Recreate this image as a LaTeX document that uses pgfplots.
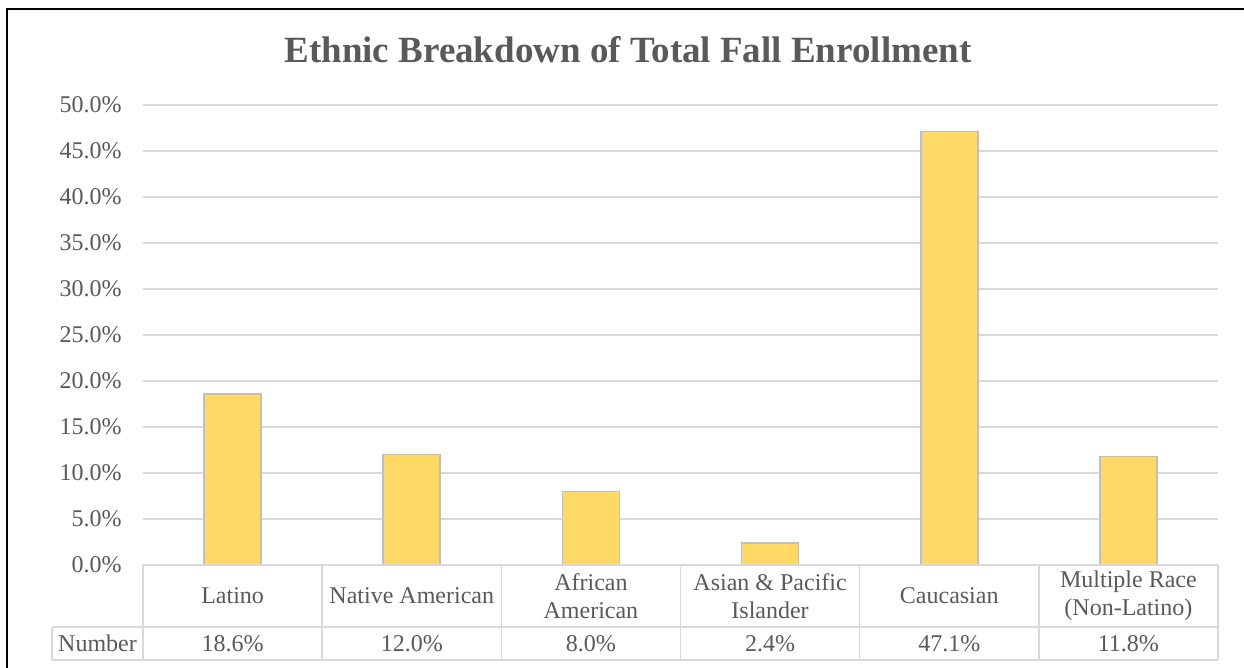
\documentclass[border=0pt]{standalone}
\usepackage{pgfplots}
\usepackage{pgfplotstable}
\usepackage{fontspec}
\pgfplotsset{compat=1.18}
\setmainfont{Liberation Serif}
\definecolor{txtgray}{HTML}{595959}
\definecolor{gridgray}{HTML}{D9D9D9}
\definecolor{bargold}{HTML}{FFD966}
\definecolor{barline}{HTML}{BFBFBF}

\pgfplotstableread{
idx pct
0 18.6
1 12.0
2 8.0
3 2.4
4 47.1
5 11.8
}\enrol

\begin{document}
\begin{tikzpicture}
\useasboundingbox (0,0) rectangle (622pt,334pt);
% chart frame (only top and left edges fall inside the picture)
\draw[black, line width=1pt] (3.5pt,-2pt) -- (3.5pt,329.5pt) -- (626pt,329.5pt);
\node[anchor=base, text=txtgray, font=\fontsize{18.5}{22}\selectfont\bfseries]
  at (314pt,302.5pt) {Ethnic Breakdown of Total Fall Enrollment};
\begin{axis}[
  at={(71.5pt,51.5pt)}, anchor=south west,
  scale only axis, width=537.5pt, height=230pt,
  xmin=-0.5, xmax=5.5, ymin=0, ymax=50,
  ytick={0,5,...,50},
  xtick={0,...,5},
  xticklabels={Latino, Native American, {African\\American},
    {Asian \& Pacific\\Islander}, Caucasian, {Multiple Race\\(Non-Latino)}},
  axis line style={draw=none}, tick style={draw=none},
  major tick length=0pt,
  ymajorgrids, grid style={gridgray, line width=0.75pt},
  /pgf/number format/assume math mode=true,
  yticklabel={\pgfmathprintnumber[fixed,fixed zerofill,precision=1]{\tick}\%},
  yticklabel style={anchor=east, inner sep=0pt, xshift=-10.5pt},
  xticklabel style={anchor=center, inner sep=0pt, yshift=-15.5pt, align=center},
  ticklabel style={text=txtgray, font=\fontsize{12}{14}\selectfont},
  clip=false,
]
\addplot[ybar, bar width=28.5pt, bar shift=0pt, fill=bargold, draw=barline,
  line width=0.75pt] table[x=idx, y=pct] {\enrol};
% values row of the data table under the chart
\addplot[draw=none, mark=none, nodes near coords={\pgfmathprintnumber[fixed,fixed zerofill,precision=1]{\pgfplotspointmeta}\%},
  point meta=\thisrow{pct},
  every node near coord/.append style={anchor=center, inner sep=0pt, yshift=-39.25pt,
    text=txtgray, font=\fontsize{12}{14}\selectfont}]
  table[x=idx, y expr=0] {\enrol};
\end{axis}
% data table grid
\begin{scope}[gridgray, line width=0.75pt]
  \draw (71.5pt,51.5pt) -- (609pt,51.5pt);
  \draw (26pt,20.5pt) -- (609pt,20.5pt);
  \draw (26pt,4pt) -- (609pt,4pt);
  \draw (26pt,4pt) -- (26pt,20.5pt);
  \foreach \k in {0,...,6}
    \draw ({71.5pt+\k*89.5833pt},4pt) -- ({71.5pt+\k*89.5833pt},51.5pt);
\end{scope}
\node[text=txtgray, font=\fontsize{12}{14}\selectfont] at (48.75pt,12.25pt) {Number};
\end{tikzpicture}
\end{document}
